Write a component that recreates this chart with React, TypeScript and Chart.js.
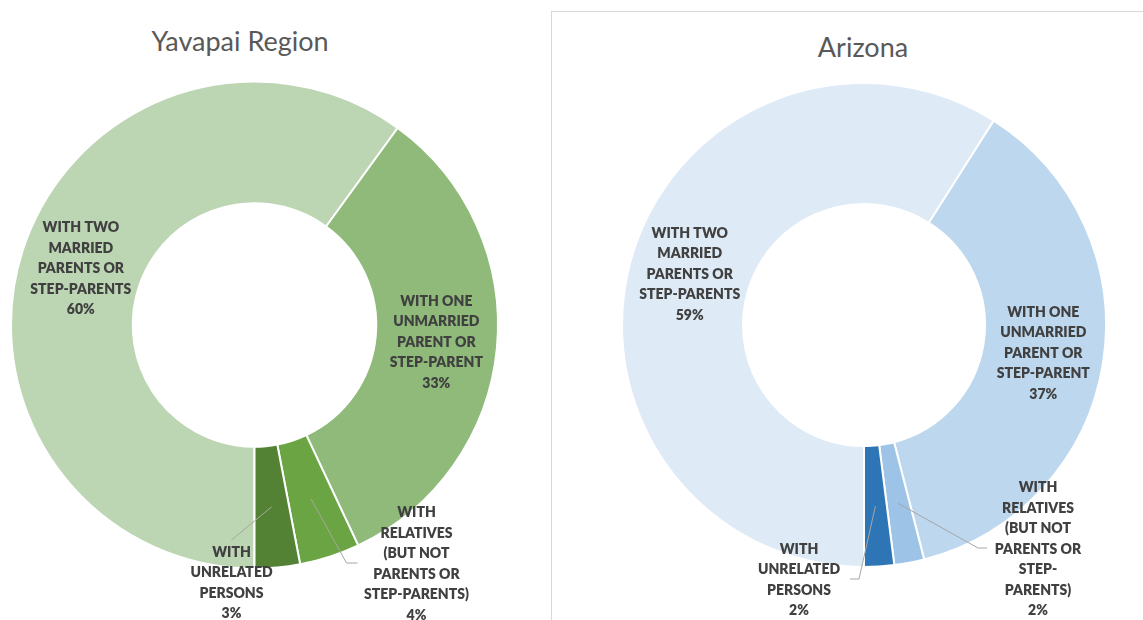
import React, { useEffect, useRef } from "react";
import { Chart, registerables } from "chart.js";

Chart.register(...registerables);

// ---------- data ----------
const categories = [
  "WITH TWO MARRIED PARENTS OR STEP-PARENTS",
  "WITH ONE UNMARRIED PARENT OR STEP-PARENT",
  "WITH RELATIVES (BUT NOT PARENTS OR STEP-PARENTS)",
  "WITH UNRELATED PERSONS",
];
const yavapaiTitle = "Yavapai Region";
const arizonaTitle = "Arizona";
const yavapaiValues = [60, 33, 4, 3];
const arizonaValues = [59, 37, 2, 2];
const yavapaiColors = ["#BCD5B2", "#8FBA7A", "#6AA443", "#548235"];
const arizonaColors = ["#DEEAF6", "#BDD7EE", "#9DC3E6", "#2E75B6"];
const yavapaiLabelLines = [
  ["WITH TWO", "MARRIED", "PARENTS OR", "STEP-PARENTS"],
  ["WITH ONE", "UNMARRIED", "PARENT OR", "STEP-PARENT"],
  ["WITH", "RELATIVES", "(BUT NOT", "PARENTS OR", "STEP-PARENTS)"],
  ["WITH", "UNRELATED", "PERSONS"],
];
const arizonaLabelLines = [
  ["WITH TWO", "MARRIED", "PARENTS OR", "STEP-PARENTS"],
  ["WITH ONE", "UNMARRIED", "PARENT OR", "STEP-PARENT"],
  ["WITH", "RELATIVES", "(BUT NOT", "PARENTS OR", "STEP-", "PARENTS)"],
  ["WITH", "UNRELATED", "PERSONS"],
];

// ---------- layout (label placement offsets relative to donut centre) ----------
type Placement = null | { label: [number, number]; path: [number, number][] };
const yavapaiPlacements: Placement[] = [
  null,
  null,
  { label: [162, 239], path: [[92, 238], [103, 238]] },
  { label: [-23, 258], path: [[-23, 215]] },
];
const arizonaPlacements: Placement[] = [
  null,
  null,
  { label: [174, 224], path: [[114, 223], [123, 223]] },
  { label: [-65, 255], path: [[-5, 254], [-14, 254]] },
];

const LABEL_FONT = "800 14px Lato, 'Open Sans', sans-serif";
const LINE_H = 20.5;

const sliceLabelPlugin = {
  id: "sliceLabels",
  afterDatasetsDraw(chart: any, _args: any, opts: any) {
    const { ctx } = chart;
    const meta = chart.getDatasetMeta(0);
    const values: number[] = chart.data.datasets[0].data;
    const total = values.reduce((a, b) => a + b, 0);
    ctx.save();
    meta.data.forEach((arc: any, i: number) => {
      const p = arc.getProps(
        ["x", "y", "startAngle", "endAngle", "innerRadius", "outerRadius"],
        true
      );
      const mid = (p.startAngle + p.endAngle) / 2;
      const r = (p.innerRadius + p.outerRadius) / 2;
      const ax = p.x + Math.cos(mid) * r;
      const ay = p.y + Math.sin(mid) * r;
      const lines = [
        ...opts.lines[i],
        Math.round((values[i] / total) * 100) + "%",
      ];
      const place: Placement = opts.placements[i];
      let cx = ax;
      let cy = ay;
      if (place) {
        ctx.beginPath();
        ctx.strokeStyle = "#A6A6A6";
        ctx.lineWidth = 1;
        ctx.moveTo(ax, ay);
        place.path.forEach(([dx, dy]) => ctx.lineTo(p.x + dx, p.y + dy));
        ctx.stroke();
        cx = p.x + place.label[0];
        cy = p.y + place.label[1];
      }
      ctx.font = LABEL_FONT;
      ctx.fillStyle = "#404040";
      ctx.textAlign = "center";
      ctx.textBaseline = "middle";
      const top = cy - ((lines.length - 1) * LINE_H) / 2;
      lines.forEach((ln, k) => ctx.fillText(ln, cx, top + k * LINE_H));
    });
    ctx.restore();
  },
};

function Donut(props: {
  values: number[];
  colors: string[];
  lines: string[][];
  placements: Placement[];
  width: number;
  height: number;
  padding: { left: number; right: number; top: number; bottom: number };
  style: React.CSSProperties;
}) {
  const ref = useRef<HTMLCanvasElement | null>(null);
  useEffect(() => {
    if (!ref.current) return;
    const chart = new Chart(ref.current, {
      type: "doughnut",
      data: {
        labels: categories,
        datasets: [
          {
            data: props.values,
            backgroundColor: props.colors,
            borderColor: "#FFFFFF",
            borderWidth: 2,
          },
        ],
      },
      options: {
        responsive: false,
        animation: false,
        events: [],
        rotation: 180,
        cutout: "50%",
        layout: { padding: props.padding },
        plugins: {
          legend: { display: false },
          tooltip: { enabled: false },
          title: { display: false },
          sliceLabels: { lines: props.lines, placements: props.placements },
        } as any,
      },
      plugins: [sliceLabelPlugin],
    });
    return () => chart.destroy();
  }, []);
  return (
    <canvas
      ref={ref}
      width={props.width}
      height={props.height}
      style={{ position: "absolute", width: props.width, height: props.height, ...props.style }}
    />
  );
}

const titleStyle: React.CSSProperties = {
  position: "absolute",
  fontFamily: "Lato, 'Open Sans', sans-serif",
  fontSize: 27,
  lineHeight: "30px",
  color: "#595959",
  textAlign: "center",
  whiteSpace: "nowrap",
};

export default function App() {
  return (
    <div
      style={{
        position: "fixed",
        left: 0,
        top: 0,
        width: 1143,
        height: 620,
        overflow: "hidden",
        background: "#FFFFFF",
      }}
    >
      <div
        style={{
          position: "absolute",
          left: 551,
          top: 11,
          width: 700,
          height: 700,
          border: "1px solid #D9D9D9",
        }}
      />
      <div style={{ ...titleStyle, left: 140, top: 26, width: 200 }}>{yavapaiTitle}</div>
      <div style={{ ...titleStyle, left: 763, top: 32, width: 200 }}>{arizonaTitle}</div>
      <Donut
        values={yavapaiValues}
        colors={yavapaiColors}
        lines={yavapaiLabelLines}
        placements={yavapaiPlacements}
        width={551}
        height={620}
        padding={{ left: 10, right: 52, top: 80.5, bottom: 50.5 }}
        style={{ left: 0, top: 0 }}
      />
      <Donut
        values={arizonaValues}
        colors={arizonaColors}
        lines={arizonaLabelLines}
        placements={arizonaPlacements}
        width={592}
        height={620}
        padding={{ left: 70, right: 36, top: 82, bottom: 52 }}
        style={{ left: 551, top: 0 }}
      />
    </div>
  );
}
